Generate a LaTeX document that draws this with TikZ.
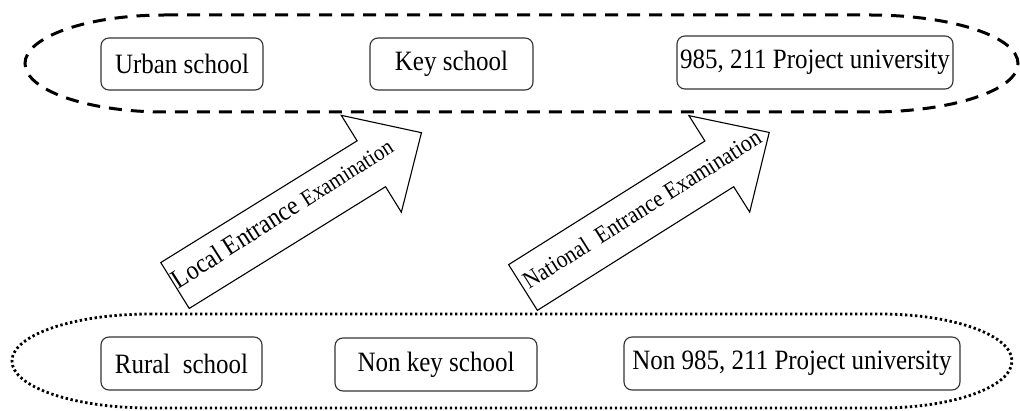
\documentclass[tikz,border=0pt]{standalone}
\usepackage{fontspec}
\setmainfont{Liberation Serif}
% slightly taller lettering
\newcommand{\tallText}[1]{\scalebox{1}[1.12]{#1}}
\begin{document}
\begin{tikzpicture}[x=1pt,y=-1pt,
  box/.style={draw=black!80, line width=1.1pt, rounded corners=8pt, inner sep=0pt,
              font=\fontsize{25}{30}\selectfont},
  upperring/.style={line width=3pt, dash pattern=on 13pt off 9pt},
  lowerring/.style={line width=2.8pt, dash pattern=on 2.4pt off 2.6pt},
  blockarrow/.style={draw=black, line width=1.1pt, fill=white, line join=miter},
  arrowtext/.style={anchor=base west, inner sep=0pt}]
\useasboundingbox (0,0) rectangle (1020,411);

% upper group: dashed ring
\draw[upperring] (165,15) -- (870,15)
  arc[start angle=90, end angle=-90, x radius=148pt, y radius=48.5pt]
  -- (165,112)
  arc[start angle=270, end angle=90, x radius=140pt, y radius=48.5pt] -- cycle;

% lower group: dotted ring
\draw[lowerring] (150,314) -- (880,314)
  arc[start angle=90, end angle=-90, x radius=132pt, y radius=47pt]
  -- (150,408)
  arc[start angle=270, end angle=90, x radius=138pt, y radius=47pt] -- cycle;

% upper boxes
\node[box, minimum width=162pt, minimum height=52pt] (urban) at (182,64) {\tallText{Urban school}};
\node[box, minimum width=163pt, minimum height=52pt] (key) at (451.5,64) {\tallText{Key school}};
\node[box, minimum width=276pt, minimum height=53pt] (proj) at (815,62.5) {\tallText{985, 211 Project university}};

% lower boxes
\node[box, minimum width=161pt, minimum height=53pt] (rural) at (181.5,363.5) {\tallText{Rural\ \ school}};
\node[box, minimum width=202pt, minimum height=53pt] (nonkey) at (436,364.5) {\tallText{Non key school}};
\node[box, minimum width=336pt, minimum height=53pt] (nonproj) at (792,363.5) {\tallText{Non 985, 211 Project university}};

% local entrance examination arrow
\begin{scope}[shift={(175,285.5)}, rotate=31.8]
  \draw[blockarrow] (0,-27) -- (231,-27) -- (231,-57) -- (290,0)
    -- (231,57) -- (231,27) -- (0,27) -- cycle;
  \node[arrowtext, rotate=32.5] (localtext) at (1,5)
    {\tallText{\fontsize{24}{28}\selectfont Local Entrance \fontsize{20.5}{24}\selectfont Examination}};
\end{scope}

% national entrance examination arrow
\begin{scope}[shift={(523,287.5)}, rotate=32.2]
  \draw[blockarrow] (0,-27) -- (232,-27) -- (232,-57) -- (291,0)
    -- (232,57) -- (232,27) -- (0,27) -- cycle;
  \node[arrowtext, rotate=32.2] (nationaltext) at (4,5)
    {\tallText{\fontsize{21.5}{26}\selectfont National\ \ Entrance Examination}};
\end{scope}
\end{tikzpicture}
\end{document}
